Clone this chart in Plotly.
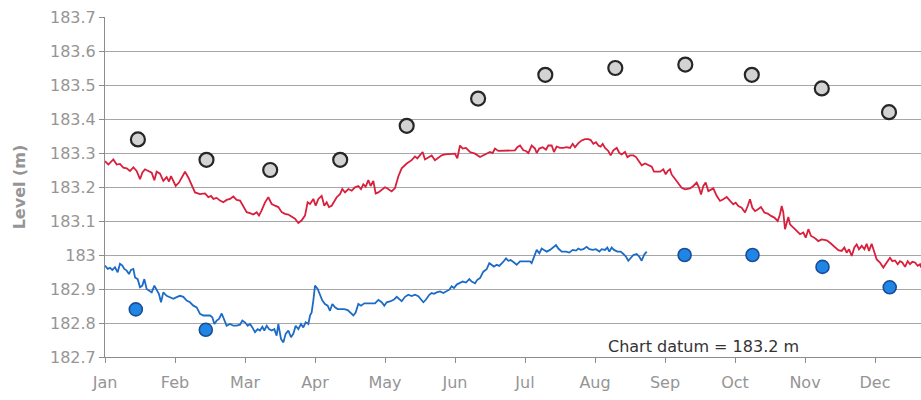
import plotly.graph_objects as go

# Month axis: 0 = start of January, one unit per month
month_labels = ["Jan", "Feb", "Mar", "Apr", "May", "Jun",
                "Jul", "Aug", "Sep", "Oct", "Nov", "Dec"]
level_ticks = [182.7, 182.8, 182.9, 183.0, 183.1, 183.2, 183.3, 183.4, 183.5, 183.6, 183.7]
level_tick_text = ["182.7", "182.8", "182.9", "183", "183.1", "183.2",
                   "183.3", "183.4", "183.5", "183.6", "183.7"]

# Daily water level, upper record (red)
red_month = [
    0.000, 0.048, 0.119, 0.167, 0.214, 0.262, 0.310, 0.357, 0.405, 0.452,
    0.500, 0.533, 0.571, 0.619, 0.667, 0.705, 0.738, 0.786, 0.833, 0.881,
    0.914, 0.943, 0.976, 1.010, 1.057, 1.095, 1.143, 1.190, 1.238, 1.286,
    1.357, 1.429, 1.476, 1.514, 1.548, 1.595, 1.643, 1.690, 1.738, 1.786,
    1.833, 1.881, 1.929, 1.976, 2.024, 2.071, 2.119, 2.167, 2.200, 2.238,
    2.286, 2.333, 2.381, 2.429, 2.476, 2.524, 2.571, 2.619, 2.667, 2.714,
    2.762, 2.810, 2.857, 2.895, 2.929, 2.976, 3.010, 3.048, 3.095, 3.133,
    3.167, 3.200, 3.238, 3.276, 3.310, 3.357, 3.390, 3.429, 3.476, 3.524,
    3.571, 3.619, 3.657, 3.690, 3.724, 3.762, 3.795, 3.833, 3.867, 3.905,
    3.952, 4.000, 4.024, 4.095, 4.143, 4.190, 4.238, 4.310, 4.381, 4.429,
    4.462, 4.500, 4.538, 4.571, 4.619, 4.667, 4.714, 4.762, 4.810, 4.857,
    4.929, 5.000, 5.033, 5.071, 5.110, 5.157, 5.214, 5.286, 5.357, 5.405,
    5.452, 5.500, 5.538, 5.571, 5.619, 5.690, 5.786, 5.857, 5.890, 5.929,
    5.976, 6.014, 6.048, 6.095, 6.143, 6.167, 6.205, 6.252, 6.300, 6.333,
    6.381, 6.414, 6.452, 6.500, 6.548, 6.595, 6.643, 6.681, 6.714, 6.762,
    6.810, 6.857, 6.905, 6.938, 6.976, 7.014, 7.048, 7.081, 7.110, 7.143,
    7.190, 7.224, 7.262, 7.310, 7.348, 7.381, 7.429, 7.462, 7.500, 7.548,
    7.586, 7.633, 7.667, 7.714, 7.762, 7.810, 7.843, 7.881, 7.929, 7.976,
    8.010, 8.038, 8.071, 8.095, 8.143, 8.190, 8.238, 8.286, 8.357, 8.405,
    8.452, 8.486, 8.514, 8.548, 8.581, 8.619, 8.657, 8.690, 8.738, 8.786,
    8.833, 8.881, 8.929, 8.976, 9.010, 9.048, 9.095, 9.143, 9.181, 9.214,
    9.248, 9.286, 9.324, 9.371, 9.419, 9.467, 9.514, 9.562, 9.610, 9.643,
    9.667, 9.690, 9.714, 9.738, 9.762, 9.786, 9.833, 9.881, 9.929, 9.976,
    10.010, 10.048, 10.086, 10.133, 10.190, 10.238, 10.310, 10.357, 10.405, 10.438,
    10.476, 10.524, 10.562, 10.595, 10.629, 10.667, 10.705, 10.738, 10.771, 10.810,
    10.848, 10.881, 10.914, 10.952, 10.990, 11.024, 11.071, 11.119, 11.167, 11.214,
    11.248, 11.286, 11.324, 11.357, 11.390, 11.429, 11.467, 11.500, 11.533, 11.571,
    11.610, 11.643, 11.657,
]
red_level = [
    183.276, 183.266, 183.281, 183.266, 183.268, 183.257, 183.255, 183.247, 183.258, 183.247,
    183.223, 183.242, 183.252, 183.247, 183.242, 183.220, 183.245, 183.239, 183.218, 183.229,
    183.216, 183.232, 183.218, 183.203, 183.213, 183.228, 183.245, 183.228, 183.203, 183.184,
    183.179, 183.181, 183.170, 183.174, 183.165, 183.168, 183.160, 183.155, 183.162, 183.165,
    183.172, 183.162, 183.160, 183.141, 183.126, 183.123, 183.119, 183.126, 183.116, 183.131,
    183.155, 183.170, 183.150, 183.145, 183.141, 183.126, 183.121, 183.119, 183.114, 183.107,
    183.094, 183.102, 183.116, 183.155, 183.150, 183.165, 183.145, 183.165, 183.174, 183.145,
    183.155, 183.141, 183.145, 183.160, 183.170, 183.179, 183.194, 183.184, 183.194, 183.189,
    183.199, 183.203, 183.194, 183.208, 183.201, 183.220, 183.203, 183.218, 183.181, 183.184,
    183.191, 183.199, 183.197, 183.187, 183.197, 183.231, 183.255, 183.269, 183.279, 183.290,
    183.284, 183.293, 183.303, 183.281, 183.288, 183.293, 183.279, 183.287, 183.293, 183.296,
    183.296, 183.298, 183.284, 183.322, 183.313, 183.315, 183.303, 183.298, 183.288, 183.293,
    183.298, 183.303, 183.300, 183.313, 183.306, 183.306, 183.306, 183.308, 183.317, 183.322,
    183.308, 183.306, 183.300, 183.322, 183.313, 183.300, 183.313, 183.317, 183.310, 183.322,
    183.322, 183.303, 183.319, 183.315, 183.315, 183.317, 183.315, 183.327, 183.317, 183.329,
    183.337, 183.341, 183.341, 183.338, 183.327, 183.332, 183.322, 183.319, 183.327, 183.315,
    183.306, 183.293, 183.308, 183.315, 183.300, 183.296, 183.303, 183.288, 183.293, 183.293,
    183.288, 183.274, 183.264, 183.269, 183.264, 183.260, 183.245, 183.245, 183.245, 183.252,
    183.237, 183.247, 183.252, 183.237, 183.223, 183.213, 183.198, 183.193, 183.196, 183.203,
    183.213, 183.198, 183.178, 183.203, 183.213, 183.188, 183.193, 183.196, 183.174, 183.159,
    183.164, 183.171, 183.159, 183.149, 183.154, 183.144, 183.139, 183.125, 183.144, 183.164,
    183.139, 183.129, 183.134, 183.141, 183.125, 183.122, 183.115, 183.110, 183.100, 183.120,
    183.144, 183.125, 183.076, 183.095, 183.112, 183.090, 183.080, 183.071, 183.061, 183.066,
    183.051, 183.076, 183.056, 183.051, 183.041, 183.046, 183.043, 183.036, 183.027, 183.022,
    183.014, 183.012, 183.022, 183.007, 183.017, 182.997, 183.022, 183.031, 183.017, 183.027,
    183.017, 183.033, 183.012, 183.033, 183.007, 182.987, 182.978, 182.963, 182.978, 182.992,
    182.982, 182.984, 182.973, 182.982, 182.978, 182.965, 182.982, 182.973, 182.980, 182.978,
    182.968, 182.973, 182.963,
]

# Daily water level, lower record (blue), ends late August
blue_month = [
    0.000, 0.038, 0.071, 0.105, 0.143, 0.181, 0.214, 0.248, 0.276, 0.310,
    0.343, 0.371, 0.405, 0.429, 0.467, 0.500, 0.533, 0.562, 0.595, 0.629,
    0.667, 0.705, 0.738, 0.771, 0.800, 0.833, 0.881, 0.929, 0.976, 1.024,
    1.071, 1.119, 1.167, 1.214, 1.262, 1.310, 1.357, 1.405, 1.452, 1.500,
    1.533, 1.562, 1.595, 1.629, 1.667, 1.705, 1.738, 1.786, 1.833, 1.881,
    1.929, 1.962, 2.000, 2.038, 2.071, 2.105, 2.143, 2.181, 2.214, 2.248,
    2.276, 2.310, 2.343, 2.381, 2.419, 2.452, 2.476, 2.514, 2.548, 2.581,
    2.619, 2.657, 2.690, 2.724, 2.762, 2.800, 2.833, 2.867, 2.905, 2.929,
    2.952, 2.976, 3.000, 3.038, 3.071, 3.105, 3.143, 3.181, 3.214, 3.248,
    3.286, 3.324, 3.371, 3.419, 3.467, 3.514, 3.548, 3.581, 3.619, 3.657,
    3.705, 3.762, 3.810, 3.857, 3.905, 3.952, 3.990, 4.024, 4.081, 4.129,
    4.167, 4.205, 4.238, 4.286, 4.333, 4.381, 4.429, 4.476, 4.510, 4.548,
    4.586, 4.633, 4.667, 4.700, 4.738, 4.786, 4.833, 4.871, 4.919, 4.952,
    4.986, 5.024, 5.062, 5.110, 5.157, 5.205, 5.238, 5.286, 5.319, 5.357,
    5.405, 5.452, 5.490, 5.524, 5.557, 5.595, 5.633, 5.681, 5.729, 5.762,
    5.795, 5.843, 5.881, 5.929, 5.976, 6.024, 6.071, 6.095, 6.119, 6.143,
    6.167, 6.205, 6.238, 6.271, 6.310, 6.357, 6.405, 6.443, 6.476, 6.524,
    6.586, 6.633, 6.681, 6.729, 6.762, 6.795, 6.833, 6.881, 6.919, 6.967,
    7.014, 7.062, 7.095, 7.143, 7.176, 7.205, 7.238, 7.271, 7.319, 7.367,
    7.405, 7.443, 7.476, 7.510, 7.548, 7.595, 7.633, 7.667, 7.700, 7.738,
]
blue_level = [
    182.969, 182.959, 182.962, 182.956, 182.964, 182.949, 182.974, 182.969, 182.959, 182.954,
    182.944, 182.956, 182.959, 182.934, 182.929, 182.905, 182.910, 182.929, 182.900, 182.895,
    182.890, 182.910, 182.895, 182.885, 182.861, 182.890, 182.880, 182.876, 182.871, 182.876,
    182.880, 182.877, 182.866, 182.861, 182.851, 182.846, 182.827, 182.822, 182.822, 182.822,
    182.817, 182.797, 182.807, 182.812, 182.828, 182.807, 182.792, 182.797, 182.792, 182.792,
    182.795, 182.807, 182.802, 182.792, 182.797, 182.787, 182.773, 182.782, 182.778, 182.789,
    182.778, 182.792, 182.782, 182.778, 182.782, 182.763, 182.797, 182.753, 182.743, 182.768,
    182.778, 182.758, 182.768, 182.792, 182.782, 182.797, 182.787, 182.802, 182.797, 182.822,
    182.831, 182.866, 182.910, 182.900, 182.885, 182.866, 182.856, 182.851, 182.836, 182.856,
    182.846, 182.841, 182.841, 182.841, 182.838, 182.827, 182.822, 182.831, 182.856, 182.851,
    182.858, 182.858, 182.858, 182.858, 182.868, 182.861, 182.851, 182.861, 182.864, 182.869,
    182.877, 182.869, 182.864, 182.877, 182.883, 182.879, 182.883, 182.879, 182.869, 182.861,
    182.869, 182.883, 182.888, 182.886, 182.890, 182.893, 182.888, 182.893, 182.898, 182.908,
    182.903, 182.913, 182.917, 182.922, 182.919, 182.929, 182.922, 182.917, 182.927, 182.932,
    182.951, 182.958, 182.976, 182.971, 182.966, 182.971, 182.968, 182.978, 182.990, 182.983,
    182.985, 182.978, 182.971, 182.981, 182.981, 182.981, 182.981, 182.976, 182.990, 183.005,
    183.015, 183.005, 183.019, 183.015, 183.010, 183.015, 183.024, 183.029, 183.019, 183.010,
    183.010, 183.007, 183.015, 183.013, 183.019, 183.015, 183.017, 183.024, 183.017, 183.015,
    183.017, 183.010, 183.017, 183.015, 183.022, 183.010, 183.022, 183.015, 183.010, 183.010,
    183.003, 182.995, 182.983, 182.990, 183.000, 183.003, 182.995, 182.983, 183.000, 183.010,
]

# Monthly reference levels (grey markers)
grey_month = [0.47, 1.45, 2.36, 3.36, 4.31, 5.33, 6.29, 7.29, 8.29, 9.24, 10.24, 11.20]
grey_level = [183.34, 183.28, 183.25, 183.28, 183.38, 183.46,
              183.53, 183.55, 183.56, 183.53, 183.49, 183.42]

# Monthly levels for the lower record (blue markers)
blue_pt_month = [0.44, 1.44, 8.28, 9.25, 10.25, 11.21]
blue_pt_level = [182.84, 182.78, 183.00, 183.00, 182.965, 182.905]

datum_text = "Chart datum = 183.2 m"

FONT = "DejaVu Sans"
LABEL_GREY = "#959595"
GRID_GREY = "#a6a6a6"

fig = go.Figure()

fig.add_trace(go.Scatter(
    x=red_month, y=red_level, mode="lines",
    line=dict(color="#d91f3c", width=1.8),
    hoverinfo="skip", showlegend=False,
))
fig.add_trace(go.Scatter(
    x=blue_month, y=blue_level, mode="lines",
    line=dict(color="#1c6bc6", width=1.8),
    hoverinfo="skip", showlegend=False,
))
fig.add_trace(go.Scatter(
    x=grey_month, y=grey_level, mode="markers",
    marker=dict(size=14, color="#d3d3d3", line=dict(color="#262626", width=2.2)),
    hoverinfo="skip", showlegend=False,
))
fig.add_trace(go.Scatter(
    x=blue_pt_month, y=blue_pt_level, mode="markers",
    marker=dict(size=13, color="#1f86e6", line=dict(color="#1a4c98", width=1.6)),
    hoverinfo="skip", showlegend=False,
))

fig.add_annotation(
    x=0.733, y=0.032, xref="paper", yref="paper",
    text=datum_text, showarrow=False,
    font=dict(family=FONT, size=16, color="#333333"),
    xanchor="center", yanchor="middle",
)

fig.update_layout(
    width=921, height=400,
    margin=dict(l=105, r=0, t=17, b=43),
    paper_bgcolor="white", plot_bgcolor="white",
    font=dict(family=FONT, size=16, color=LABEL_GREY),
    xaxis=dict(
        range=[0, 11.657],
        tickmode="array",
        tickvals=list(range(len(month_labels))),
        ticktext=month_labels,
        showgrid=False, zeroline=False,
        showline=True, linecolor="#8c8c8c", linewidth=1,
        ticks="outside", ticklen=5, tickcolor="#8c8c8c",
        ticklabelstandoff=6,
        tickfont=dict(family=FONT, size=16, color=LABEL_GREY),
    ),
    yaxis=dict(
        range=[182.7, 183.7],
        tickmode="array",
        tickvals=level_ticks,
        ticktext=level_tick_text,
        showgrid=True, gridcolor=GRID_GREY, gridwidth=1,
        zeroline=False,
        showline=True, linecolor="#8c8c8c", linewidth=1,
        ticks="outside", ticklen=5, tickcolor="#8c8c8c",
        tickfont=dict(family=FONT, size=16, color=LABEL_GREY),
        title=dict(text="<b>Level (m)</b>", standoff=20,
                   font=dict(family=FONT, size=16, color=LABEL_GREY)),
    ),
)

fig.write_html("out.html")
